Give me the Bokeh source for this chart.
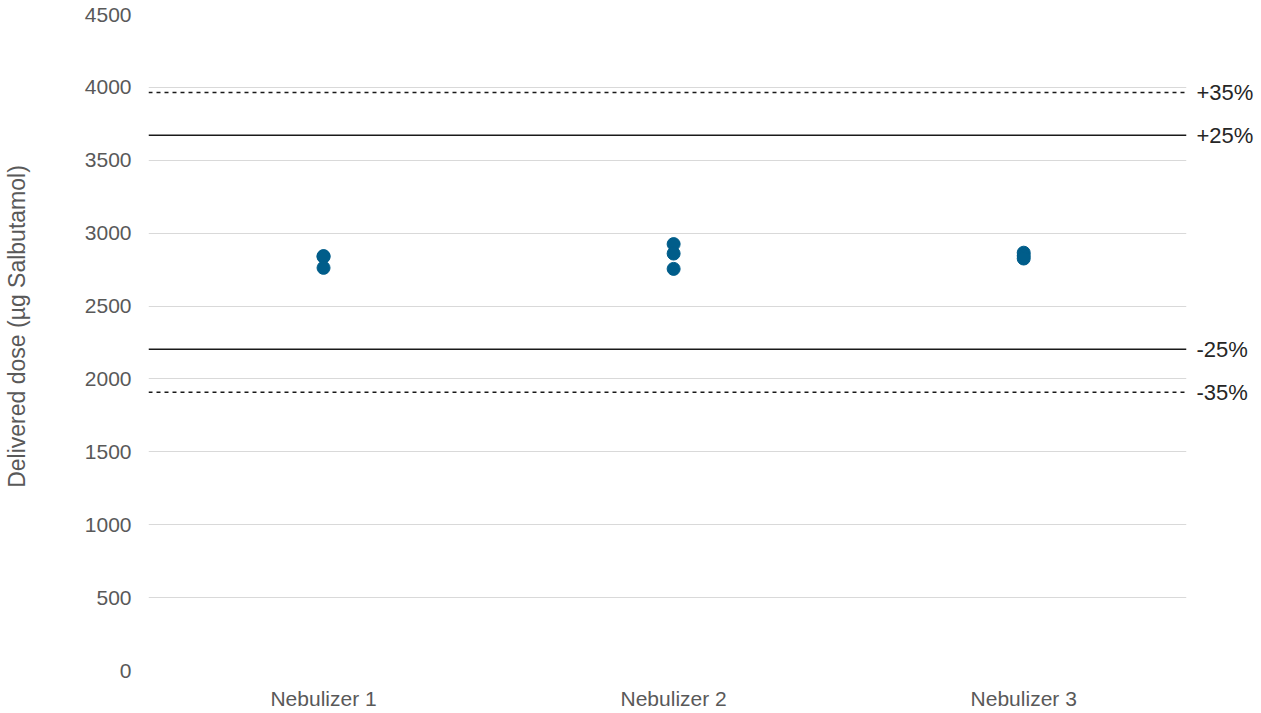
from bokeh.plotting import figure
from bokeh.models import Range1d, FixedTicker, ColumnDataSource, Span, LinearAxis
from bokeh.embed import file_html
from bokeh.resources import INLINE

# Nebulizer categories and measured delivered doses (µg salbutamol)
categories = ["Nebulizer 1", "Nebulizer 2", "Nebulizer 3"]
nebulizer_1 = [2843, 2838, 2762]
nebulizer_2 = [2925, 2860, 2755]
nebulizer_3 = [2866, 2845, 2826]

# Acceptance limits around the nominal dose
nominal_dose = 2937
limit_percents = [35, 25, -25, -35]
limit_labels = ["+35%", "+25%", "-25%", "-35%"]
limit_dashed = [True, False, False, True]

y_ticks = [0, 500, 1000, 1500, 2000, 2500, 3000, 3500, 4000, 4500]
y_caption = "Delivered dose (µg Salbutamol)"

FONT = "Liberation Sans"
GREY = "#595959"

xs, ys = [], []
for i, vals in enumerate([nebulizer_1, nebulizer_2, nebulizer_3]):
    for v in vals:
        xs.append(i + 0.5)
        ys.append(v)
src = ColumnDataSource(dict(x=xs, y=ys))

p = figure(width=1261, height=713, output_backend="svg", toolbar_location=None,
           x_range=Range1d(0, 2.965), y_range=Range1d(0, 4500),
           min_border_left=147, min_border_right=75,
           min_border_top=14, min_border_bottom=43)
p.outline_line_color = None
p.background_fill_color = "white"

p.xgrid.grid_line_color = None
p.ygrid.grid_line_color = "#d9d9d9"
p.ygrid.grid_line_width = 1

p.yaxis.ticker = FixedTicker(ticks=y_ticks)
p.xaxis.ticker = FixedTicker(ticks=[i + 0.5 for i in range(len(categories))])
p.xaxis.major_label_overrides = {i + 0.5: c for i, c in enumerate(categories)}

for ax in (p.xaxis, p.yaxis):
    ax.axis_line_color = None
    ax.major_tick_line_color = None
    ax.minor_tick_line_color = None
    ax.major_label_text_font = FONT
    ax.major_label_text_font_size = "21px"
    ax.major_label_text_color = GREY

p.yaxis.major_label_standoff = 11
p.xaxis.major_label_standoff = 10

# Leading no-break spaces lift the centred caption a little
p.yaxis.axis_label = "\u00a0" * 5 + y_caption
p.yaxis.axis_label_text_font = FONT
p.yaxis.axis_label_text_font_size = "23px"
p.yaxis.axis_label_text_font_style = "normal"
p.yaxis.axis_label_text_color = GREY
p.yaxis.axis_label_standoff = 52

# Limit lines, labelled through a right-hand axis
levels = [round(nominal_dose * (1 + pct / 100)) for pct in limit_percents]
for level, dashed in zip(levels, limit_dashed):
    p.add_layout(Span(location=level, dimension="width", line_color="#1a1a1a",
                      line_width=1.5, line_dash="4 4" if dashed else "solid"))

limit_axis = LinearAxis(ticker=FixedTicker(ticks=levels),
                        major_label_overrides=dict(zip(levels, limit_labels)))
limit_axis.axis_line_color = None
limit_axis.major_tick_line_color = None
limit_axis.minor_tick_line_color = None
limit_axis.major_label_text_font = FONT
limit_axis.major_label_text_font_size = "22px"
limit_axis.major_label_text_color = "#262626"
limit_axis.major_label_standoff = 4
p.add_layout(limit_axis, "right")

p.scatter("x", "y", source=src, size=13, fill_color="#005d8a",
          line_color="#005d8a")

open("out.html", "w").write(file_html(p, INLINE))
